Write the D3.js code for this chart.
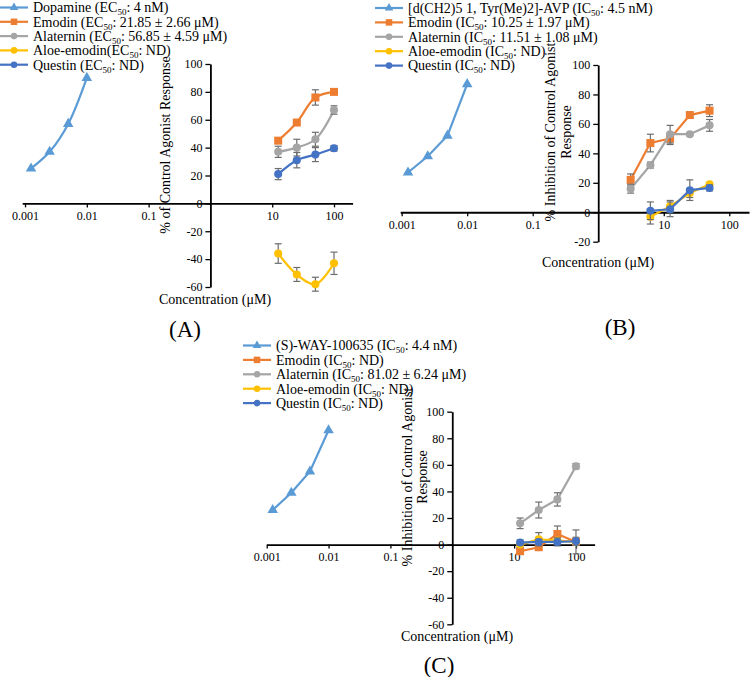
<!DOCTYPE html>
<html>
<head>
<meta charset="utf-8">
<script src="https://cdn.jsdelivr.net/npm/d3@7"></script>
<style>
  body { margin: 0; background: #fff; }
</style>
</head>
<body>
<script>
const FONT = "'Liberation Serif', 'Times New Roman', Times, serif";

// concentrations (uM)
const xRef = [0.00125, 0.0025, 0.005, 0.01];
const xA = [12.5, 25, 50, 100];
const xB = [3.125, 6.25, 12.5, 25, 50];
const xBlow = [6.25, 12.5, 25, 50];
const xC = [12.5, 25, 50, 100];
const xTicks = [0.001, 0.01, 0.1, 10, 100];

// (A) agonist
const dopamineA = [25, 37, 57, 90];
const emodinA = [45, 58, 76, 80], emodinAErr = [2, 1, 5.5, 1];
const alaterninA = [37, 40, 46, 67], alaterninAErr = [4, 6, 5, 3];
const aloeA = [-36, -51, -58, -43], aloeAErr = [7, 5, 5, 8];
const questinA = [21, 31, 35, 39.5], questinAErr = [4, 5.5, 5, 2];

// (B) antagonist
const avpB = [27, 38, 52, 87];
const emodinB = [22, 47, 50, 66, 69], emodinBErr = [4, 6, 4, 2, 4];
const alaterninB = [16, 32, 53, 53, 59], alaterninBErr = [3, 2, 6, 1, 4];
const aloeB = [-3, 4, 13, 19], aloeBErr = [5, 4, 3, 1];
const questinB = [1, 2, 15, 16.5], questinBErr = [6, 5, 7, 2];

// (C) antagonist
const wayC = [26, 39, 55, 86];
const emodinC = [-5, -2, 8, 2], emodinCErr = [2, 1, 6, 2];
const alaterninC = [16, 26, 34, 59], alaterninCErr = [4, 6, 5, 2];
const aloeC = [0, 4, 3, 2], aloeCErr = [2, 5, 2, 9];
const questinC = [1.5, 2, 2, 2.5], questinCErr = [2, 2, 3, 3];

const legendA = [["Dopamine (EC", ": 4 nM)"], ["Emodin (EC", ": 21.85 \u00b1 2.66 \u03bcM)"],
  ["Alaternin (EC", ": 56.85 \u00b1 4.59 \u03bcM)"], ["Aloe-emodin(EC", ": ND)"], ["Questin (EC", ": ND)"]];
const legendB = [["[d(CH2)5 1, Tyr(Me)2]-AVP (IC", ": 4.5 nM)"], ["Emodin (IC", ": 10.25 \u00b1 1.97 \u03bcM)"],
  ["Alaternin (IC", ": 11.51 \u00b1 1.08 \u03bcM)"], ["Aloe-emodin (IC", ": ND)"], ["Questin (IC", ": ND)"]];
const legendC = [["(S)-WAY-100635 (IC", ": 4.4 nM)"], ["Emodin (IC", ": ND)"],
  ["Alaternin (IC", ": 81.02 \u00b1 6.24 \u03bcM)"], ["Aloe-emodin (IC", ": ND)"], ["Questin (IC", ": ND)"]];

const colors = ["#5B9BD5", "#ED7D31", "#A5A5A5", "#FFC000", "#4472C4"];
const shapes = ["triangle", "square", "circle", "circle", "circle"];

const svg = d3.select("body").append("svg")
    .attr("width", 750)
    .attr("height", 677)
    .style("font-family", FONT);

function marker(g, shape, color, cx, cy, s) {
    if (shape == "square") {
        g.append("rect").attr("x", cx - s / 2).attr("y", cy - s / 2)
            .attr("width", s).attr("height", s).attr("fill", color);
    } else {
        let sym = shape == "triangle" ? d3.symbolTriangle : d3.symbolCircle;
        let area = shape == "triangle" ? s * s * 0.75 : s * s * 0.8;
        g.append("path").attr("d", d3.symbol(sym, area)())
            .attr("transform", `translate(${cx},${cy})`).attr("fill", color);
    }
}

function drawPanel(p) {
    let g = svg.append("g");
    let x = d3.scaleLog().domain(p.xDomain).range(p.xRange);
    let y = d3.scaleLinear().domain(p.yDomain).range(p.yRange);
    let yTicks = d3.range(p.yDomain[0], p.yDomain[1] + 1, 20);

    // x axis at y = 0
    let xAxis = g.append("g")
        .attr("transform", `translate(0,${y(0)})`)
        .call(d3.axisBottom(x).tickValues(xTicks).tickFormat(d => String(d))
            .tickSizeInner(4).tickSizeOuter(0).tickPadding(4));
    // y axis at x = 1
    let yAxis = g.append("g")
        .attr("transform", `translate(${x(1)},0)`)
        .call(d3.axisLeft(y).tickValues(yTicks).tickSizeInner(5).tickSizeOuter(0).tickPadding(3));
    [xAxis, yAxis].forEach(a => {
        a.attr("font-family", null);
        a.select(".domain").attr("stroke", "#000").attr("stroke-width", 1.8);
        a.selectAll(".tick line").attr("stroke", "#000").attr("stroke-width", 1.3);
        a.selectAll("text").style("font-family", FONT).style("font-size", "12px").attr("fill", "#000");
    });
    yAxis.selectAll("text").text(d => d < 0 ? "-" + Math.abs(d) : d);

    let line = d3.line().x(d => x(d[0])).y(d => y(d[1])).curve(p.curve);

    p.series.forEach((s, i) => {
        let pts = s.x.map((v, j) => [v, s.y[j]]);
        let sg = g.append("g");
        sg.append("path").datum(pts).attr("d", line)
            .attr("fill", "none").attr("stroke", colors[i]).attr("stroke-width", 2.2);
        if (s.err) {
            pts.forEach((d, j) => {
                let e = s.err[j], cx = x(d[0]);
                let eb = sg.append("g").attr("stroke", "#6d6d6d").attr("stroke-width", 1.2);
                eb.append("line").attr("x1", cx).attr("x2", cx).attr("y1", y(d[1] - e)).attr("y2", y(d[1] + e));
                eb.append("line").attr("x1", cx - 3.5).attr("x2", cx + 3.5).attr("y1", y(d[1] - e)).attr("y2", y(d[1] - e));
                eb.append("line").attr("x1", cx - 3.5).attr("x2", cx + 3.5).attr("y1", y(d[1] + e)).attr("y2", y(d[1] + e));
            });
        }
        pts.forEach(d => marker(sg, shapes[i], colors[i], x(d[0]), y(d[1]), 8));
    });

    // legend
    p.legend.forEach((lab, i) => {
        let ly = p.legendY + i * p.legendStep;
        g.append("line").attr("x1", p.legendX).attr("x2", p.legendX + 28)
            .attr("y1", ly).attr("y2", ly).attr("stroke", colors[i]).attr("stroke-width", 2.2);
        marker(g, shapes[i], colors[i], p.legendX + 14, ly, 6.5);
        let t = g.append("text").attr("x", p.legendX + 33).attr("y", ly + 4.8)
            .style("font-family", FONT).style("font-size", "14px");
        t.append("tspan").text(lab[0]);
        t.append("tspan").text("50").style("font-size", "9px").attr("dy", 3);
        t.append("tspan").text(lab[1]).attr("dy", -3);
    });

    // axis titles
    g.append("text").attr("x", p.xTitle[0]).attr("y", p.xTitle[1]).attr("dy", "0.35em")
        .attr("text-anchor", "middle").style("font-family", FONT).style("font-size", "14px")
        .text("Concentration (\u03bcM)");
    p.yTitle.forEach((t, i) => {
        g.append("text")
            .attr("transform", `translate(${p.yTitleX[i]},${p.yTitleY}) rotate(-90)`)
            .attr("dy", "0.35em").attr("text-anchor", "middle")
            .style("font-family", FONT).style("font-size", "14px").text(t);
    });
    g.append("text").attr("x", p.tag[0]).attr("y", p.tag[1]).attr("dy", "0.35em")
        .attr("text-anchor", "middle").style("font-family", FONT).style("font-size", "23px")
        .text(p.tagText);
}

drawPanel({
    xDomain: [0.0009, 200], xRange: [22.2, 352.6],
    yDomain: [-60, 100], yRange: [287, 64],
    curve: d3.curveCatmullRom,
    series: [
        {x: xRef, y: dopamineA},
        {x: xA, y: emodinA, err: emodinAErr},
        {x: xA, y: alaterninA, err: alaterninAErr},
        {x: xA, y: aloeA, err: aloeAErr},
        {x: xA, y: questinA, err: questinAErr}
    ],
    legend: legendA, legendX: 0, legendY: 7.5, legendStep: 14.3,
    xTitle: [215, 299], yTitle: ["% of Control Agonist Response"], yTitleX: [165], yTitleY: 145,
    tag: [185, 329], tagText: "(A)"
});

drawPanel({
    xDomain: [0.00095, 200], xRange: [400.2, 749],
    yDomain: [-20, 100], yRange: [241.7, 65],
    curve: d3.curveLinear,
    series: [
        {x: xRef, y: avpB},
        {x: xB, y: emodinB, err: emodinBErr},
        {x: xB, y: alaterninB, err: alaterninBErr},
        {x: xBlow, y: aloeB, err: aloeBErr},
        {x: xBlow, y: questinB, err: questinBErr}
    ],
    legend: legendB, legendX: 375, legendY: 8, legendStep: 14.4,
    xTitle: [598, 262], yTitle: ["% Inhibition of Control Agonist", "Response"], yTitleX: [550, 566], yTitleY: 132,
    tag: [620, 327], tagText: "(B)"
});

drawPanel({
    xDomain: [0.001, 200], xRange: [266.7, 594.6],
    yDomain: [-60, 100], yRange: [624.3, 411.7],
    curve: d3.curveLinear,
    series: [
        {x: xRef, y: wayC},
        {x: xC, y: emodinC, err: emodinCErr},
        {x: xC, y: alaterninC, err: alaterninCErr},
        {x: xC, y: aloeC, err: aloeCErr},
        {x: xC, y: questinC, err: questinCErr}
    ],
    legend: legendC, legendX: 243, legendY: 345.5, legendStep: 14.4,
    xTitle: [457, 636], yTitle: ["% Inhibition of Control Agonist", "Response"], yTitleX: [407, 422], yTitleY: 477,
    tag: [439, 665], tagText: "(C)"
});
</script>
</body>
</html>
